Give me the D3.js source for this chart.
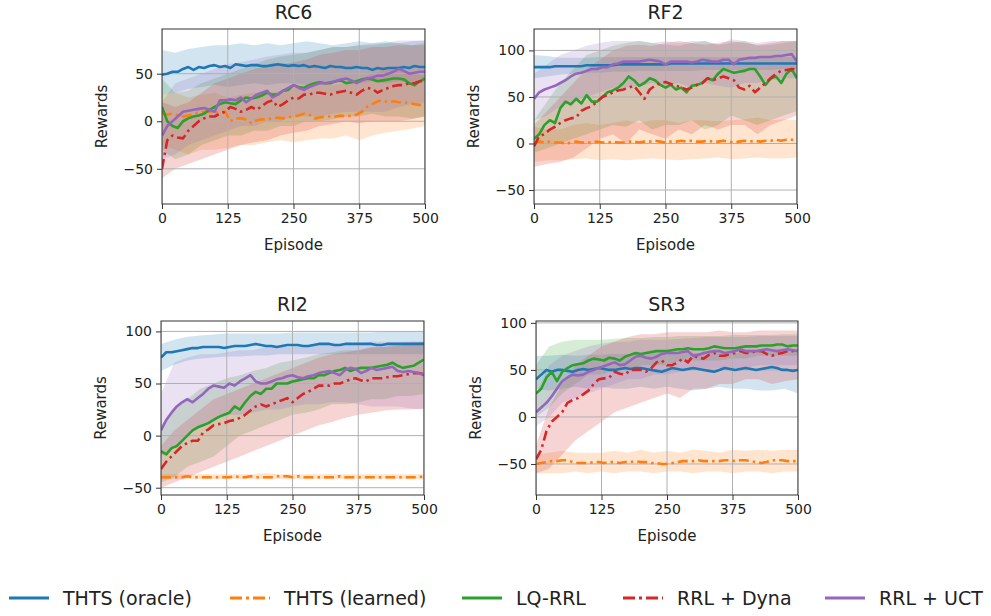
<!DOCTYPE html>
<html>
<head>
<meta charset="utf-8">
<script src="https://cdn.jsdelivr.net/npm/d3@7"></script>
<style>
  body { margin: 0; background: #fff; }
  text { font-family: "DejaVu Sans", sans-serif; fill: #222; }
</style>
</head>
<body>
<div id="chart"></div>
<script>
// ---- data: means every 10 episodes, bands (lo/hi) every 25 episodes ----
const seriesNames = ["THTS (oracle)", "THTS (learned)", "LQ-RRL", "RRL + Dyna", "RRL + UCT"];
const seriesColors = ["#1f77b4", "#ff7f0e", "#2ca02c", "#d62728", "#9467bd"];
const seriesDashed = [false, true, false, true, false];
const xTicks = [0, 125, 250, 375, 500];

// RC6
const rc6Oracle = [49,50,52,52,55,57,54,57,56,58,59,57,58,56,60,59,58,59,59,58,58,59,60,59,58,59,58,59,57,58,57,56,58,57,57,56,56,57,56,56,54,56,55,56,56,56,57,56,58,57,57];
const rc6Learned = [8,7,8,6,5,6,8,9,10,10,9,10,10,0,3,3,2,-2,1,2,2,3,4,3,4,5,6,8,7,3,4,5,5,5,6,5,6,7,10,15,18,21,22,20,21,20,20,19,18,17,18];
const rc6Lq = [15,0,-5,-7,0,3,5,6,8,12,15,18,20,19,18,22,25,24,25,27,30,28,28,32,33,38,36,35,38,40,41,40,40,42,43,40,41,42,44,45,44,42,43,44,45,45,44,40,38,42,45];
const rc6Dyna = [-50,-20,-15,-17,-18,-10,-5,0,3,5,5,8,10,15,13,10,12,15,12,16,20,22,15,18,22,25,24,28,28,30,30,29,28,30,31,32,30,28,32,35,34,30,33,35,37,38,38,40,40,42,42];
const rc6Uct = [-15,-5,0,5,10,11,12,13,14,12,10,22,22,23,22,25,20,24,28,30,32,25,28,32,35,38,35,33,36,38,40,40,41,42,44,45,43,40,43,45,46,48,48,50,52,55,53,50,51,52,52];
const rc6OracleLo = [28,30,34,36,38,36,38,40,38,40,40,38,40,42,40,40,42,40,42,40,42];
const rc6OracleHi = [75,72,76,78,80,80,82,80,82,80,82,84,82,80,82,84,82,84,82,84,85];
const rc6LearnedLo = [-25,-30,-35,-30,-30,-28,-25,-25,-22,-20,-22,-20,-18,-18,-15,-20,-15,-12,-10,-8,-5];
const rc6LearnedHi = [28,30,25,28,30,25,28,30,30,32,35,38,40,38,40,45,50,55,55,50,48];
const rc6LqLo = [-30,-40,-35,-25,-20,-15,-15,-10,-10,-5,-5,0,0,2,5,5,8,5,5,3,5];
const rc6LqHi = [45,30,32,40,45,50,55,60,65,68,70,72,75,78,78,80,80,82,82,80,82];
const rc6DynaLo = [-60,-50,-45,-40,-35,-30,-25,-22,-20,-15,-12,-10,-5,-3,0,-2,0,0,0,2,5];
const rc6DynaHi = [20,15,20,30,40,45,50,55,58,60,62,65,70,72,75,75,78,78,80,80,80];
const rc6UctLo = [-40,-35,-25,-20,-15,-10,-5,-5,0,0,5,5,5,8,10,10,10,10,15,18,20];
const rc6UctHi = [20,40,45,50,55,60,62,65,68,70,72,72,75,78,78,80,82,82,85,85,85];

// RF2
const rf2Oracle = [82,82,82,82,83,83,83,83,83,83,84,84,84,84,84,84,85,85,85,85,85,85,85,85,85,85,86,86,86,86,86,86,86,86,86,86,86,86,86,86,86,86,86,86,86,86,86,86,86,86,86];
const rf2Learned = [0,2,1,2,1,1,0,1,2,1,1,1,2,1,1,2,1,1,2,2,1,2,2,3,2,1,2,2,3,2,3,2,2,3,2,2,3,2,1,2,3,2,3,2,3,3,4,3,4,4,4];
const rf2Lq = [5,10,20,25,22,38,45,42,48,43,52,45,45,50,55,57,60,65,72,68,62,65,70,68,63,60,63,58,60,55,62,63,65,70,68,75,80,78,76,77,78,80,80,72,63,70,72,65,75,80,70];
const rf2Dyna = [-3,8,10,15,18,22,25,27,28,35,38,40,45,50,52,55,57,58,60,62,55,48,58,62,65,66,64,62,60,58,60,63,65,70,68,70,72,70,68,60,58,62,55,60,65,70,75,78,79,80,80];
const rf2Uct = [48,55,58,60,62,65,68,72,75,76,78,80,80,82,82,85,86,88,88,88,88,89,90,89,88,85,88,88,88,88,87,88,90,89,88,88,90,90,85,90,91,92,92,93,93,93,94,94,95,96,88];
const rf2OracleLo = [70,72,74,75,76,76,77,77,78,78,78,78,78,79,79,79,79,79,79,80,80];
const rf2OracleHi = [95,94,92,92,92,93,93,93,93,93,93,93,93,93,93,93,93,93,93,93,93];
const rf2LearnedLo = [-20,-18,-18,-17,-16,-18,-17,-18,-17,-16,-17,-18,-17,-16,-15,-17,-16,-15,-16,-16,-15];
const rf2LearnedHi = [18,15,15,20,22,20,22,25,22,25,25,22,25,25,24,25,26,28,25,26,25];
const rf2LqLo = [-10,-5,0,5,10,15,20,18,25,15,20,20,25,15,20,30,25,20,25,30,35];
const rf2LqHi = [25,45,65,80,95,100,105,108,110,108,106,105,108,110,106,108,110,105,106,108,110];
const rf2DynaLo = [-25,-22,-20,-15,-5,5,10,0,15,10,5,15,10,20,15,20,20,10,20,25,30];
const rf2DynaHi = [20,35,50,65,80,90,100,105,106,105,108,110,108,106,108,110,108,106,108,110,110];
const rf2UctLo = [25,30,40,45,50,55,60,60,62,65,62,65,60,65,62,60,65,65,68,70,70];
const rf2UctHi = [75,85,95,100,105,108,110,110,110,108,110,108,110,110,106,112,110,108,110,110,110];

// RI2
const ri2Oracle = [75,80,80,81,82,83,84,84,85,85,85,85,84,85,86,86,86,87,88,87,86,86,85,86,87,87,87,86,86,87,88,88,88,87,87,88,88,88,88,88,88,87,87,88,88,88,88,88,88,88,88];
const ri2Learned = [-40,-40,-40,-40,-40,-39,-40,-40,-40,-40,-40,-40,-40,-40,-39,-40,-40,-39,-40,-40,-40,-40,-39,-39,-39,-40,-39,-40,-40,-40,-40,-40,-40,-40,-39,-40,-40,-40,-40,-40,-40,-40,-40,-40,-40,-40,-40,-40,-40,-40,-39];
const ri2Lq = [-15,-18,-12,-10,-5,0,5,8,10,12,15,18,20,22,28,25,32,38,42,40,45,45,50,50,50,52,53,54,55,55,58,58,60,62,63,65,62,64,65,65,65,66,67,68,70,67,65,66,67,70,73];
const ri2Dyna = [-32,-25,-20,-15,-10,-7,-5,-5,3,6,10,11,12,14,15,17,20,24,28,30,28,30,32,34,36,32,36,40,42,45,48,48,48,50,50,52,54,55,53,52,55,55,55,56,57,57,58,59,60,60,59];
const ri2Uct = [5,15,22,28,32,35,32,36,40,45,48,47,46,50,48,52,55,58,52,50,50,52,54,55,57,58,56,55,57,58,60,61,62,60,58,63,65,64,60,62,65,63,64,65,66,62,61,62,61,60,58];
const ri2OracleLo = [62,68,72,74,75,76,76,77,77,78,78,78,78,78,78,78,78,78,78,78,78];
const ri2OracleHi = [88,92,95,96,97,98,98,98,98,98,99,99,99,99,99,99,99,100,100,100,100];
const ri2LearnedLo = [-42,-42,-42,-42,-42,-42,-42,-42,-42,-42,-42,-42,-42,-42,-42,-42,-42,-42,-42,-42,-42];
const ri2LearnedHi = [-37,-37,-37,-37,-37,-37,-37,-37,-36,-37,-37,-37,-37,-37,-37,-37,-37,-37,-37,-37,-37];
const ri2LqLo = [-45,-40,-30,-25,-20,-10,0,5,10,15,20,22,25,30,30,32,35,35,38,38,40];
const ri2LqHi = [10,25,35,45,50,55,58,62,65,70,72,75,78,80,82,82,84,85,86,88,90];
const ri2DynaLo = [-50,-45,-40,-35,-30,-25,-20,-15,-10,-5,0,5,10,13,17,20,22,24,25,25,26];
const ri2DynaHi = [-10,5,15,25,35,40,45,50,55,60,65,70,75,78,80,82,85,85,88,90,90];
const ri2UctLo = [-20,-10,0,10,15,20,20,22,25,25,28,30,30,32,32,30,28,28,28,26,25];
const ri2UctHi = [40,70,75,78,78,80,82,82,85,85,85,86,88,88,88,88,90,90,90,90,90];

// SR3
const sr3Oracle = [40,45,50,48,50,50,49,48,50,51,50,51,52,51,50,50,51,52,51,52,52,51,50,49,48,50,52,51,50,51,52,51,50,49,48,50,52,51,50,51,52,51,50,51,52,53,52,50,50,49,50];
const sr3Learned = [-50,-49,-48,-47,-47,-46,-46,-48,-49,-49,-49,-48,-48,-49,-48,-48,-49,-48,-48,-47,-48,-48,-49,-49,-50,-50,-49,-48,-47,-47,-47,-46,-47,-47,-47,-47,-46,-46,-47,-46,-46,-47,-48,-49,-48,-46,-46,-46,-47,-47,-47];
const sr3Lq = [25,30,42,48,38,48,52,55,56,57,60,62,61,60,63,62,60,64,66,68,67,68,69,70,70,70,71,72,72,73,72,72,72,73,75,74,73,73,73,74,75,75,75,76,76,76,77,77,75,76,76];
const sr3Dyna = [-45,-35,-15,-5,0,5,15,18,20,24,28,35,40,41,42,48,46,45,50,50,50,48,52,58,60,55,55,58,62,58,65,63,62,66,68,65,65,67,68,70,68,68,70,70,67,65,67,68,70,70,72];
const sr3Uct = [5,10,15,22,30,38,42,45,44,45,48,50,52,54,56,58,55,56,60,64,65,63,62,64,67,68,68,68,69,70,65,66,68,69,70,70,68,69,70,72,70,70,70,71,72,71,70,71,72,71,70];
const sr3OracleLo = [30,28,30,32,30,32,30,30,32,30,32,30,28,30,32,30,30,28,28,30,25];
const sr3OracleHi = [65,65,66,65,66,66,67,67,68,68,68,68,68,68,68,68,68,70,70,70,70];
const sr3LearnedLo = [-60,-60,-60,-58,-60,-58,-60,-58,-58,-60,-58,-58,-60,-58,-58,-60,-58,-58,-60,-58,-58];
const sr3LearnedHi = [-40,-38,-36,-38,-38,-38,-36,-38,-35,-38,-36,-38,-35,-36,-38,-35,-36,-35,-36,-35,-35];
const sr3LqLo = [0,10,25,35,45,45,50,50,55,55,55,60,60,60,60,62,62,65,65,65,65];
const sr3LqHi = [55,75,80,82,82,82,83,84,84,85,85,86,86,86,86,87,87,87,87,88,88];
const sr3DynaLo = [-60,-55,-40,-25,-15,-5,5,10,15,20,25,20,30,30,35,35,40,40,35,38,40];
const sr3DynaHi = [-30,10,35,55,65,75,80,85,88,88,90,90,90,90,92,90,90,92,92,92,92];
const sr3UctLo = [-10,0,15,20,25,30,35,40,40,45,45,48,50,50,52,52,52,55,55,55,55];
const sr3UctHi = [25,55,65,70,75,78,80,80,82,82,82,83,84,85,85,85,85,86,86,86,86];

const panels = [
  { title: "RC6", box: [162, 29, 263, 175], yDomain: [-87, 97], yTicks: [-50, 0, 50],
    means: [rc6Oracle, rc6Learned, rc6Lq, rc6Dyna, rc6Uct],
    lows: [rc6OracleLo, rc6LearnedLo, rc6LqLo, rc6DynaLo, rc6UctLo],
    highs: [rc6OracleHi, rc6LearnedHi, rc6LqHi, rc6DynaHi, rc6UctHi] },
  { title: "RF2", box: [534, 29, 263, 175], yDomain: [-65, 123], yTicks: [-50, 0, 50, 100],
    means: [rf2Oracle, rf2Learned, rf2Lq, rf2Dyna, rf2Uct],
    lows: [rf2OracleLo, rf2LearnedLo, rf2LqLo, rf2DynaLo, rf2UctLo],
    highs: [rf2OracleHi, rf2LearnedHi, rf2LqHi, rf2DynaHi, rf2UctHi] },
  { title: "RI2", box: [161, 321, 263, 174], yDomain: [-57, 110], yTicks: [-50, 0, 50, 100],
    means: [ri2Oracle, ri2Learned, ri2Lq, ri2Dyna, ri2Uct],
    lows: [ri2OracleLo, ri2LearnedLo, ri2LqLo, ri2DynaLo, ri2UctLo],
    highs: [ri2OracleHi, ri2LearnedHi, ri2LqHi, ri2DynaHi, ri2UctHi] },
  { title: "SR3", box: [536, 321, 262, 174], yDomain: [-83, 102], yTicks: [-50, 0, 50, 100],
    means: [sr3Oracle, sr3Learned, sr3Lq, sr3Dyna, sr3Uct],
    lows: [sr3OracleLo, sr3LearnedLo, sr3LqLo, sr3DynaLo, sr3UctLo],
    highs: [sr3OracleHi, sr3LearnedHi, sr3LqHi, sr3DynaHi, sr3UctHi] },
];

const width = 991, height = 616;
const svg = d3.select("#chart").append("svg")
  .attr("width", width).attr("height", height);

// pair each value with its episode, spacing set by array length
const withEpisodes = (arr) => arr.map((v, i) => [i * 500 / (arr.length - 1), v]);

panels.forEach((p, pi) => {
  const [left, top, w, h] = p.box;
  const x = d3.scaleLinear().domain([0, 500]).range([0, w]);
  const y = d3.scaleLinear().domain(p.yDomain).range([h, 0]);

  const g = svg.append("g").attr("transform", `translate(${left},${top})`);

  g.append("clipPath").attr("id", `clip${pi}`)
    .append("rect").attr("width", w).attr("height", h);

  const plot = g.append("g").attr("clip-path", `url(#clip${pi})`);

  // bands
  const area = d3.area()
    .x((d) => x(d[0]))
    .y0((d) => y(d[1]))
    .y1((d) => y(d[2]));
  p.lows.forEach((lo, si) => {
    const hi = p.highs[si];
    const pts = lo.map((v, i) => [i * 500 / (lo.length - 1), v, hi[i]]);
    plot.append("path")
      .attr("d", area(pts))
      .attr("fill", seriesColors[si])
      .attr("fill-opacity", 0.2)
      .attr("stroke", "none");
  });

  // grid (above bands, below lines)
  plot.selectAll(".gx").data(xTicks).join("line")
    .attr("x1", (d) => x(d)).attr("x2", (d) => x(d))
    .attr("y1", 0).attr("y2", h)
    .attr("stroke", "#b0b0b0").attr("stroke-width", 1);
  plot.selectAll(".gy").data(p.yTicks).join("line")
    .attr("y1", (d) => y(d)).attr("y2", (d) => y(d))
    .attr("x1", 0).attr("x2", w)
    .attr("stroke", "#b0b0b0").attr("stroke-width", 1);

  // mean lines
  const line = d3.line().x((d) => x(d[0])).y((d) => y(d[1]));
  p.means.forEach((m, si) => {
    plot.append("path")
      .attr("d", line(withEpisodes(m)))
      .attr("fill", "none")
      .attr("stroke", seriesColors[si])
      .attr("stroke-width", 2.6)
      .attr("stroke-linejoin", "round")
      .attr("stroke-dasharray", seriesDashed[si] ? "10,4,2.5,4" : null);
  });

  // frame
  g.append("rect").attr("width", w).attr("height", h)
    .attr("fill", "none").attr("stroke", "#333").attr("stroke-width", 1);

  const xAxis = g.append("g").attr("transform", `translate(0,${h})`)
    .call(d3.axisBottom(x).tickValues(xTicks).tickSize(5).tickPadding(4));
  const yAxis = g.append("g")
    .call(d3.axisLeft(y).tickValues(p.yTicks).tickSize(5).tickPadding(4));
  [xAxis, yAxis].forEach((a) => {
    a.select(".domain").remove();
    a.selectAll(".tick line").attr("stroke", "#333");
    a.selectAll(".tick text").attr("font-size", 14).attr("fill", "#222")
      .style("font-family", "DejaVu Sans, sans-serif");
  });

  g.append("text")
    .attr("x", w / 2).attr("y", -10)
    .attr("text-anchor", "middle")
    .attr("font-size", 19)
    .text(p.title);

  g.append("text")
    .attr("x", w / 2).attr("y", h + 41).attr("dy", "0.35em")
    .attr("text-anchor", "middle")
    .attr("font-size", 15)
    .text("Episode");

  g.append("text")
    .attr("transform", `translate(${-60},${h / 2}) rotate(-90)`)
    .attr("dy", "0.35em")
    .attr("text-anchor", "middle")
    .attr("font-size", 15)
    .text("Rewards");
});

// legend
const legendX = [9, 230, 462, 623, 825];
const legend = svg.append("g").attr("transform", "translate(0,598)");
seriesNames.forEach((name, i) => {
  const item = legend.append("g").attr("transform", `translate(${legendX[i]},0)`);
  item.append("line")
    .attr("x1", 0).attr("x2", 40)
    .attr("stroke", seriesColors[i])
    .attr("stroke-width", 3)
    .attr("stroke-dasharray", seriesDashed[i] ? "12,4,3,4" : null);
  item.append("text")
    .attr("x", 54).attr("dy", "0.35em")
    .attr("font-size", 19)
    .text(name);
});
</script>
</body>
</html>
